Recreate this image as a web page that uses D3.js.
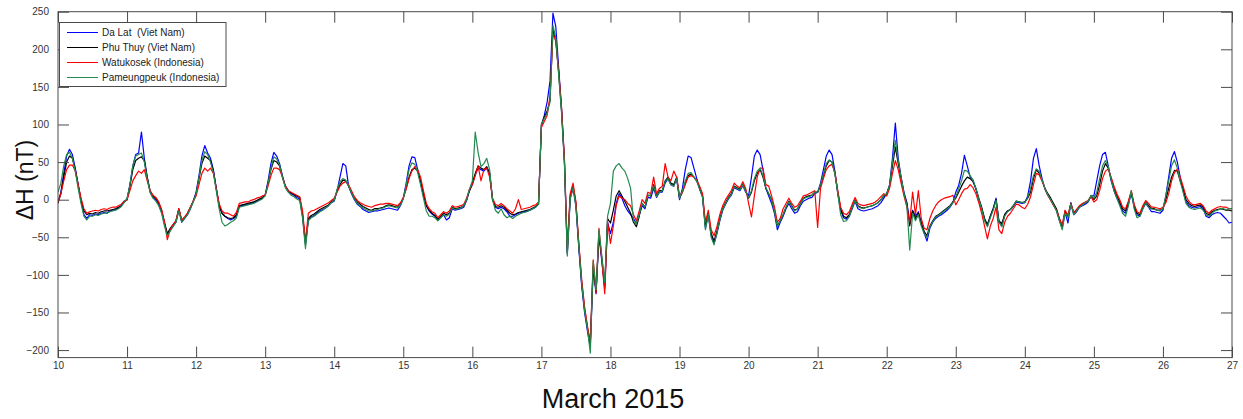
<!DOCTYPE html>
<html>
<head>
<meta charset="utf-8">
<script src="https://cdn.jsdelivr.net/npm/d3@7"></script>
<style>
  body { margin: 0; background: #fff; }
  svg { display: block; }
  text { font-family: Arial, "Liberation Sans", sans-serif; }
</style>
</head>
<body>
<svg id="chart" width="1243" height="419"></svg>
<script>
// Hourly ΔH (nT) at four low-latitude stations, 10–27 March 2015 (UT).
const stations = ["Da Lat  (Viet Nam)", "Phu Thuy (Viet Nam)", "Watukosek (Indonesia)", "Pameungpeuk (Indonesia)"];
const stationColors = ["#0000ff", "#000000", "#ff0000", "#22894f"];
const dayTicks = [10, 11, 12, 13, 14, 15, 16, 17, 18, 19, 20, 21, 22, 23, 24, 25, 26, 27];
const yTicks = [-200, -150, -100, -50, 0, 50, 100, 150, 200, 250];
const startUT = Date.UTC(2015, 2, 10);
const stepMs = 3600 * 1000;

const daLat = [
  -3, 10, 35, 58, 67, 60, 42, 20, -2, -20, -25, -20, -21, -19, -20, -18, -17, -18, -15, -14, -13, -11, -8, -2,
  0, 20, 45, 60, 62, 90, 55, 30, 10, 3, 0, -6, -16, -32, -46, -40, -35, -30, -13, -30, -25, -20, -12, -2,
  10, 32, 58, 72, 62, 55, 40, 15, -8, -18, -22, -25, -27, -25, -22, -9, -8, -7, -6, -5, -4, -2, 0, 2,
  6, 25, 48, 63, 58, 48, 32, 18, 12, 8, 6, 3, 1, -22, -58, -27, -23, -21, -18, -15, -13, -11, -8, -4,
  -2, 12, 30, 48, 45, 18, 8, 0, -6, -9, -13, -15, -17, -16, -15, -15, -14, -13, -12, -11, -12, -13, -14, -8,
  2, 22, 45, 57, 56, 40, 22, 5, -8, -15, -19, -22, -27, -23, -20, -27, -24, -12, -14, -13, -12, -10, -1, 12,
  20, 33, 42, 40, 38, 42, 36, 2, -10, -12, -10, -12, -16, -22, -22, -20, -18, -17, -16, -15, -14, -12, -10, -6,
  98, 112, 130, 158, 248, 230, 175, 122, 52, -72, 2, 15, -8, -65, -115, -150, -175, -195, -92, -125, -48, -82, -118, -30,
  -45, -30, -5, 8, 2, -8, -15, -20, -25, -32, -20, -8, -12, 3, 2, 15, 3, 10, 10, 22, 28, 20, 18, 28,
  0, 15, 40, 58, 56, 42, 28, 14, 4, -38, -20, -48, -58, -45, -28, -14, -6, 1, 6, 16, 14, 12, 19, 10,
  5, 30, 58, 66, 60, 40, 15, 5, -5, -18, -40, -30, -22, -12, -5, -12, -18, -16, -8, -2, 0, 2, 3, 8,
  10, 22, 40, 58, 66, 60, 38, 8, -14, -24, -26, -22, -12, -2, -12, -14, -15, -14, -13, -12, -10, -8, -4, 2,
  8, 20, 55, 102, 55, 30, 10, -4, -30, -14, -22, -16, -30, -44, -55, -38, -30, -25, -22, -20, -17, -14, -10, -4,
  10, 19, 35, 59, 45, 30, 26, 14, 0, -12, -26, -35, -22, -12, 2, -30, -35, -20, -15, -13, -9, -3, -4, -5,
  -4, 5, 25, 55, 68, 45, 28, 14, 6, 0, -7, -14, -27, -38, -17, -31, -4, -20, -16, -10, -8, -6, -3, 5,
  5, 25, 45, 60, 63, 45, 25, 12, 2, -6, -15, -18, -6, 8, -10, -20, -22, -12, -5, -10, -16, -16, -17, -18,
  -14, 5, 30, 55, 64, 50, 30, 12, -3, -8, -10, -11, -10, -9, -12, -22, -24, -20, -18, -17, -18, -22, -26, -31,
  -30
];

const phuThuy = [
  -5, 8, 30, 50, 58, 55, 40, 20, 0, -15, -20, -18, -19, -17, -18, -16, -15, -15, -14, -13, -12, -10, -8, -3,
  0, 18, 40, 52, 55, 57, 52, 30, 12, 5, 2, -4, -14, -30, -45, -38, -33, -28, -12, -28, -24, -18, -10, -2,
  8, 28, 48, 58, 55, 52, 38, 15, -8, -18, -22, -24, -25, -24, -20, -8, -7, -6, -5, -4, -3, -1, 1, 3,
  6, 22, 40, 52, 50, 45, 30, 18, 12, 9, 7, 5, 3, -20, -60, -25, -21, -19, -16, -13, -11, -9, -7, -3,
  0, 12, 20, 26, 25, 18, 10, 2, -3, -6, -9, -11, -13, -14, -12, -12, -11, -10, -8, -7, -8, -9, -10, -6,
  2, 15, 30, 40, 42, 38, 25, 8, -8, -14, -18, -21, -26, -22, -18, -20, -18, -10, -12, -11, -10, -8, 0, 12,
  22, 35, 45, 42, 40, 44, 35, 0, -9, -10, -8, -10, -14, -18, -20, -19, -17, -16, -15, -14, -13, -11, -9, -5,
  100, 110, 118, 132, 228, 210, 170, 118, 50, -70, 5, 18, -5, -60, -110, -145, -170, -190, -88, -122, -45, -78, -115, -25,
  -31, -14, 5, 12, 5, -2, -10, -18, -30, -36, -22, -5, -10, 6, 5, 20, 5, 12, 12, 25, 30, 22, 20, 30,
  2, 10, 22, 32, 34, 30, 25, 15, 5, -35, -18, -45, -55, -42, -25, -12, -4, 3, 8, 18, 16, 14, 21, 12,
  2, 10, 25, 35, 40, 30, 15, 8, 0, -15, -35, -28, -20, -10, -2, -8, -14, -12, -5, 2, 4, 5, 6, 10,
  10, 18, 32, 45, 52, 50, 35, 10, -12, -22, -24, -20, -10, 0, -8, -10, -11, -10, -9, -8, -6, -4, 0, 5,
  8, 18, 45, 70, 48, 28, 8, -5, -35, -15, -25, -18, -32, -42, -48, -35, -28, -22, -20, -17, -14, -11, -8, -3,
  2, 10, 18, 25, 30, 28, 24, 15, 2, -10, -25, -33, -22, -12, 0, -28, -32, -20, -15, -13, -8, -2, -3, -4,
  -3, 2, 10, 28, 40, 35, 25, 15, 8, 2, -5, -12, -25, -35, -15, -22, -5, -18, -14, -9, -6, -4, -2, 5,
  0, 5, 20, 38, 48, 42, 28, 15, 5, -3, -12, -15, -3, 10, -8, -18, -20, -10, -3, -8, -12, -12, -14, -14,
  -12, 0, 15, 30, 39, 38, 25, 15, 0, -5, -8, -9, -8, -7, -10, -18, -20, -16, -14, -13, -12, -13, -14, -14,
  -15
];

const watukosek = [
  -3, 8, 25, 40, 46, 46, 38, 20, 2, -12, -18, -16, -15, -14, -15, -13, -12, -13, -11, -10, -10, -8, -6, -2,
  0, 12, 25, 32, 38, 35, 40, 25, 12, 6, 3, -3, -13, -30, -53, -40, -33, -28, -12, -27, -23, -18, -10, -2,
  5, 20, 35, 42, 38, 42, 35, 15, -5, -15, -18, -18, -20, -22, -17, -5, -4, -3, -3, -1, 0, 2, 3, 5,
  6, 18, 32, 42, 42, 40, 30, 18, 12, 10, 8, 6, 4, -15, -55, -18, -15, -14, -12, -10, -8, -6, -4, -1,
  2, 10, 18, 22, 24, 20, 12, 4, -1, -4, -6, -8, -9, -10, -8, -7, -6, -6, -5, -5, -6, -7, -8, -4,
  3, 14, 28, 38, 44, 40, 30, 12, -5, -12, -16, -18, -24, -20, -16, -18, -15, -8, -10, -9, -8, -6, 2, 14,
  20, 32, 45, 25, 40, 42, 30, 2, -6, -8, -5, -8, -12, -15, -18, -12, 0, -13, -12, -11, -10, -8, -7, -3,
  96, 104, 112, 138, 220, 212, 170, 122, 55, -65, 8, 22, -3, -58, -106, -142, -168, -190, -80, -124, -38, -80, -125, -30,
  -58, -35, -8, 5, 2, 0, -5, -8, -20, -28, -15, 0, -5, 10, 8, 30, 8, 15, 18, 48, 30, 25, 38, 30,
  5, 10, 20, 30, 32, 30, 26, 18, 8, -30, -14, -40, -48, -36, -20, -8, 0, 6, 12, 22, 18, 16, 24, 15,
  -5, -23, 5, 30, 42, 42, 20, 18, 5, -10, -30, -25, -12, -5, 2, -5, -10, -8, -2, 5, 6, 8, 10, 12,
  -37, 15, 28, 40, 45, 47, 36, 12, -10, -18, -20, -16, -6, 3, -5, -7, -8, -7, -6, -5, -3, 0, 4, 8,
  5, 15, 35, 52, 40, 22, 5, -10, -30, 10, -20, 12, -25, -38, -40, -25, -15, -8, -3, 0, 2, 3, 4, 6,
  -7, 0, 8, 14, 15, 20, 16, 8, -4, -18, -35, -52, -35, -25, -10, -40, -45, -30, -22, -18, -12, -6, -7, -10,
  -12, -6, 4, 20, 35, 33, 25, 15, 6, -1, -8, -14, -25, -34, -14, -21, -5, -17, -13, -8, -5, -3, -1, 4,
  -3, 0, 12, 28, 38, 41, 30, 18, 8, 0, -10, -12, -2, 12, -6, -16, -18, -8, -1, -5, -10, -10, -11, -12,
  -10, -4, 8, 25, 36, 41, 30, 18, 5, -2, -6, -7, -6, -5, -8, -15, -18, -14, -12, -10, -9, -10, -10, -12,
  -12
];

const pameungpeuk = [
  10, 22, 45, 60, 63, 55, 38, 15, -5, -22, -27, -22, -22, -20, -21, -19, -18, -18, -16, -15, -14, -12, -9, -4,
  2, 20, 45, 58, 60, 62, 50, 28, 10, 2, -2, -8, -18, -35, -48, -42, -36, -30, -15, -30, -25, -20, -12, -3,
  8, 30, 52, 64, 60, 50, 36, 12, -12, -30, -35, -33, -30, -28, -24, -10, -9, -8, -7, -6, -5, -3, -1, 1,
  5, 22, 42, 57, 54, 46, 30, 16, 10, 6, 4, 1, -1, -25, -65, -28, -24, -22, -19, -16, -14, -11, -8, -4,
  -1, 14, 24, 28, 26, 18, 9, 1, -5, -8, -11, -13, -15, -15, -14, -13, -12, -11, -9, -8, -9, -10, -11, -7,
  1, 20, 40, 49, 47, 36, 20, 2, -15, -22, -22, -24, -28, -24, -20, -22, -19, -11, -13, -12, -11, -8, 0, 14,
  25, 90, 63, 44, 48, 55, 40, 0, -14, -18, -12, -20, -24, -22, -25, -22, -20, -18, -17, -16, -14, -12, -10, -6,
  100, 108, 115, 130, 232, 215, 165, 115, 48, -75, 0, 16, -10, -62, -112, -148, -172, -204, -82, -120, -40, -75, -110, -22,
  -5, 38, 45, 48, 42, 38, 28, 15, -28, -32, -20, -5, -10, 5, 6, 18, 4, 10, 12, 24, 28, 20, 18, 28,
  2, 12, 25, 35, 36, 30, 24, 14, 3, -40, -20, -50, -60, -44, -27, -13, -5, 2, 7, 17, 15, 13, 20, 11,
  3, 12, 28, 38, 42, 32, 16, 8, -1, -16, -36, -28, -20, -10, -3, -9, -15, -12, -6, 1, 3, 4, 6, 10,
  10, 20, 34, 48, 53, 50, 34, 8, -20, -29, -28, -22, -11, -1, -9, -11, -12, -10, -9, -8, -6, -4, 0, 6,
  8, 19, 50, 79, 52, 30, 8, -8, -67, -18, -28, -20, -35, -45, -50, -36, -29, -23, -21, -18, -15, -12, -9, -4,
  4, 14, 25, 39, 38, 32, 26, 15, 1, -12, -28, -36, -24, -14, -1, -30, -36, -22, -16, -13, -8, -2, -3, -4,
  -4, 3, 15, 32, 41, 38, 26, 15, 6, 0, -7, -15, -28, -40, -18, -24, -6, -20, -15, -10, -7, -4, -2, 6,
  2, 10, 28, 45, 52, 44, 26, 12, 2, -8, -18, -22, -8, 12, -12, -24, -22, -12, -4, -10, -12, -13, -14, -15,
  -12, 5, 25, 45, 53, 42, 24, 10, -5, -10, -12, -13, -12, -11, -14, -20, -22, -18, -15, -14, -12, -12, -13, -12,
  -12
];

const seriesValues = [daLat, phuThuy, watukosek, pameungpeuk];

// ---- layout ----
const plotLeft = 58, plotRight = 1232, plotTop = 11.7, plotBottom = 357.6;
const svg = d3.select("#chart");

const x = d3.scaleUtc()
  .domain([new Date(Date.UTC(2015, 2, 10)), new Date(Date.UTC(2015, 2, 27))])
  .range([plotLeft, plotRight]);
const y = d3.scaleLinear().domain([-210, 250]).range([plotBottom, plotTop]);

svg.append("defs").append("clipPath").attr("id", "plotClip")
  .append("rect")
  .attr("x", plotLeft).attr("y", plotTop)
  .attr("width", plotRight - plotLeft).attr("height", plotBottom - plotTop);

// ---- data lines ----
const line = d3.line()
  .x((d, i) => x(new Date(startUT + i * stepMs)))
  .y(d => y(d));

const lines = svg.append("g").attr("clip-path", "url(#plotClip)");
seriesValues.forEach((vals, k) => {
  lines.append("path")
    .datum(vals)
    .attr("fill", "none")
    .attr("stroke", stationColors[k])
    .attr("stroke-width", 1.2)
    .attr("stroke-linejoin", "round")
    .attr("d", line);
});

// ---- axes (ticks inward on all four sides) ----
const axisColor = "#4a4a4a";
const tickDates = dayTicks.map(d => new Date(Date.UTC(2015, 2, d)));
const tickLen = 11;

function styleAxis(g) {
  g.select(".domain").remove();
  g.selectAll(".tick line").attr("stroke", axisColor);
  g.selectAll(".tick text")
    .attr("fill", "#333")
    .style("font-size", "10px")
    .style("font-family", "Arial, 'Liberation Sans', sans-serif");
}

svg.append("g")
  .attr("transform", `translate(0,${plotBottom})`)
  .call(d3.axisBottom(x).tickValues(tickDates).tickSize(-tickLen).tickPadding(4)
    .tickFormat(d => d.getUTCDate()))
  .call(styleAxis);

svg.append("g")
  .attr("transform", `translate(0,${plotTop})`)
  .call(d3.axisTop(x).tickValues(tickDates).tickSize(-tickLen).tickFormat(""))
  .call(styleAxis);

svg.append("g")
  .attr("transform", `translate(${plotLeft},0)`)
  .call(d3.axisLeft(y).tickValues(yTicks).tickSize(-tickLen).tickPadding(9))
  .call(styleAxis);

svg.append("g")
  .attr("transform", `translate(${plotRight},0)`)
  .call(d3.axisRight(y).tickValues(yTicks).tickSize(-tickLen).tickFormat(""))
  .call(styleAxis);

svg.append("rect")
  .attr("x", plotLeft).attr("y", plotTop)
  .attr("width", plotRight - plotLeft).attr("height", plotBottom - plotTop)
  .attr("fill", "none").attr("stroke", axisColor).attr("stroke-width", 1);

// ---- axis titles ----
svg.append("text")
  .attr("transform", "translate(33,180) rotate(-90)")
  .attr("text-anchor", "middle")
  .attr("fill", "#111")
  .style("font-size", "23px")
  .text("ΔH (nT)");

svg.append("text")
  .attr("x", 613).attr("y", 408)
  .attr("text-anchor", "middle")
  .attr("fill", "#111")
  .style("font-size", "27px")
  .text("March 2015");

// ---- legend ----
const legend = svg.append("g");
legend.append("rect")
  .attr("x", 59.5).attr("y", 22.5)
  .attr("width", 166.5).attr("height", 64)
  .attr("fill", "#fff").attr("stroke", axisColor).attr("stroke-width", 1);

stations.forEach((name, k) => {
  const cy = 32.5 + k * 15;
  legend.append("line")
    .attr("x1", 67).attr("x2", 98).attr("y1", cy).attr("y2", cy)
    .attr("stroke", stationColors[k]).attr("stroke-width", 1);
  legend.append("text")
    .attr("x", 102).attr("y", cy + 3.6)
    .attr("fill", "#222")
    .style("font-size", "10px")
    .style("white-space", "pre")
    .text(name);
});
</script>
</body>
</html>
